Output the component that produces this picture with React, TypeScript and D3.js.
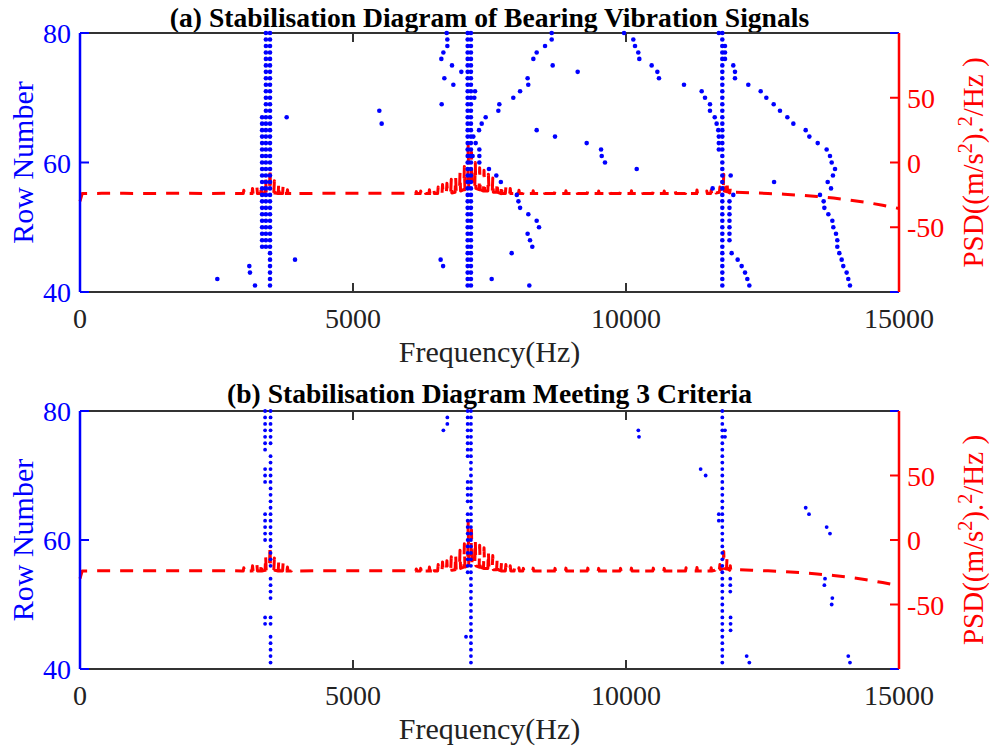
import React from "react";
import * as d3 from "d3";

// ---------- axis ticks ----------
const freqTicks = [0, 5000, 10000, 15000];
const rowTicks = [40, 60, 80];
const psdTicks = [-50, 0, 50];

// ---------- PSD: smooth background level (frequency Hz, dB) ----------
const psdBase: [number, number][] = [
  [0, -30], [40, -24], [400, -23.8], [800, -23.8], [1200, -23.9], [1600, -23.8], [2000, -23.8], [2400, -23.9], [2800, -23.8], [2960, -24],
  [3940, -24], [4400, -23.8], [5000, -23.8], [5600, -23.8], [6080, -23.8],
  [8200, -24], [11400, -24],
  [11980, -23], [12300, -23.4], [12600, -23.9], [12900, -24.5], [13200, -25.3], [13500, -26.3], [13800, -27.5], [14100, -29],
  [14400, -30.8], [14700, -33], [15000, -35.5],
];
// ---------- PSD: narrow spectral lines [frequency, trough, crest] ----------
const psdSpikes: [number, number, number][] = [
  [3000, -24, -21.5], [3080, -24, -22.5], [3160, -24, -20], [3240, -24, -19], [3320, -24, -17.5], [3400, -23.5, -12],
  [3480, -23, -4], [3560, -23.5, -14], [3640, -24, -16], [3720, -24, -18], [3800, -24, -21], [3880, -24, -23],
  [6160, -24, -22.5], [6240, -24, -22], [6320, -24, -21.5], [6400, -24, -21], [6480, -24, -20], [6560, -24, -19],
  [6640, -24, -17], [6720, -24, -16], [6800, -23.5, -13], [6880, -23, -11], [6960, -22, -8], [7040, -21, -3],
  [7110, -20, 15], [7170, -19, 8], [7240, -20, 0], [7320, -21, -4], [7400, -22, -6], [7480, -22, -9],
  [7560, -23, -12], [7640, -23, -15], [7720, -24, -17], [7800, -24, -19], [7880, -24, -20], [7960, -24, -21],
  [8040, -24, -21.5], [8120, -24, -22],
  [8300, -24, -21.8], [8500, -24, -21.8], [8700, -24, -22], [8900, -24, -21.8], [9100, -24, -22], [9300, -24, -21.8],
  [9500, -24, -22], [9700, -24, -21.8], [9900, -24, -22], [10100, -24, -21.8], [10300, -24, -22], [10500, -24, -21.8],
  [10700, -24, -22], [10900, -24, -21.6], [11100, -24, -21.5], [11300, -24, -21.3],
  [11480, -24, -22], [11560, -24, -21.5], [11640, -23.5, -21], [11720, -23, -19], [11790, -22, -9], [11850, -22.5, -14],
  [11910, -23.5, -20],
];

// ---------- Panel (a): stable-pole columns [freq, firstRow, lastRow] ----------
const aColumns: [number, number, number][] = [
  [3480, 41, 80], [3405, 47, 80], [3335, 47, 67],
  [7100, 41, 80], [7160, 41, 80],
  [11764, 41, 80], [11700, 62, 64], [11813, 76, 78], [11700, 80, 80], [11895, 48, 54],
];
// ---------- Panel (a): individual poles [freq, row] ----------
const aPoints: [number, number][] = [
  [2515, 42], [3101, 44], [3113, 43], [3205, 41], [3785, 67], [3938, 45], [5482, 68], [5525, 66],
  [6716, 80], [6728, 79], [6728, 78], [6655, 77], [6618, 76], [6813, 75], [6984, 74], [6673, 73], [6838, 72], [6624, 69],
  [7235, 71], [7222, 70], [7308, 65], [7357, 66], [7430, 67], [7662, 68], [7680, 69], [7936, 70], [8060, 71], [8210, 72], [8198, 73],
  [8303, 76], [8364, 77], [8517, 78], [8639, 79], [8639, 80], [8657, 75], [9115, 74],
  [7204, 64], [7247, 63], [7314, 62], [7314, 61], [7190, 61], [7314, 60], [7490, 59], [7625, 58], [7708, 57],
  [8000, 55], [8030, 54], [8060, 53], [8211, 52], [8364, 51], [8407, 50], [8198, 49], [8242, 48], [8284, 47], [7906, 46], [7540, 42], [8229, 41],
  [6605, 45], [6650, 44],
  [8364, 65], [8700, 64], [9280, 63], [9543, 62], [9555, 61], [9615, 60], [10196, 59],
  [9964, 80], [10134, 79], [10165, 78], [10225, 77], [10244, 76], [10470, 75], [10574, 74], [10604, 73], [11062, 72],
  [11386, 71], [11447, 70], [11538, 69], [11538, 68], [11625, 67], [11660, 66], [11690, 65],
  [11965, 75], [11996, 74], [11996, 73], [12240, 72], [12467, 71], [12570, 70], [12705, 69], [12820, 68], [12955, 67], [13065, 66],
  [13291, 65], [13358, 64], [13511, 63], [13675, 62], [13736, 61], [13767, 60], [13828, 59], [13790, 58], [13694, 57], [13755, 56],
  [13553, 55], [13620, 54], [13633, 53], [13706, 52], [13779, 51], [13797, 50], [13846, 49], [13870, 48], [13870, 47], [13907, 46],
  [13950, 45], [13980, 44], [14041, 43], [14071, 42], [14102, 41],
  [11917, 58], [11587, 56], [11965, 55], [12712, 57], [11935, 46], [12045, 45], [12118, 44], [12180, 43], [12222, 42], [12259, 41],
];

// ---------- Panel (b): columns and individual poles ----------
const bColumns: [number, number, number][] = [
  [3490, 75, 80], [3490, 56, 73], [3490, 51, 54], [3490, 47, 48], [3490, 41, 45],
  [3390, 74, 80], [3390, 69, 71], [3390, 60, 64], [3390, 47, 48],
  [7160, 41, 80], [7100, 73, 80], [7100, 66, 69], [7100, 55, 64],
  [11764, 41, 80], [11813, 76, 77], [11700, 63, 64], [11910, 52, 54], [11915, 46, 48],
];
const bPoints: [number, number][] = [
  [7070, 45], [6728, 79], [6728, 78], [6655, 77], [10226, 77], [10238, 76], [11367, 71], [11459, 70],
  [12210, 42], [12259, 41], [13291, 65], [13352, 64], [13675, 62], [13736, 61], [13645, 54], [13633, 53],
  [13779, 51], [13767, 50], [14071, 42], [14102, 41],
];

const FONT = "'Liberation Serif', 'Times New Roman', Times, serif";
const X0 = 80;
const X1 = 899;
const BLUE = "#0000ff";
const RED = "#ff0000";
const DARK = "#333333";

// PSD path vertices: background level plus each narrow line (trough - crest - trough)
const psdPath: [number, number][] = [
  ...psdBase,
  ...psdSpikes.flatMap(([f, lo, hi]) => [
    [f - 10, lo] as [number, number],
    [f, hi] as [number, number],
    [f + 10, lo] as [number, number],
  ]),
].sort((a, b) => a[0] - b[0]);

type PanelProps = {
  top: number;
  bottom: number;
  title: string;
  titleY: number;
  tickLabelY: number;
  axisLabelY: number;
  columns: [number, number, number][];
  points: [number, number][];
  r: number;
};

function Panel({ top, bottom, title, titleY, tickLabelY, axisLabelY, columns, points, r }: PanelProps) {
  const x = d3.scaleLinear().domain([0, 15000]).range([X0, X1]);
  const y = d3.scaleLinear().domain([40, 80]).range([bottom, top]);
  const yr = d3.scaleLinear().domain([-100, 100]).range([bottom, top]);
  const line = d3
    .line<[number, number]>()
    .x((d) => x(d[0]))
    .y((d) => yr(d[1]));

  const dots: [number, number][] = [];
  columns.forEach(([f, a, b]) => {
    d3.range(a, b + 1).forEach((row) => dots.push([f, row]));
  });
  points.forEach((p) => dots.push(p));

  const midY = (top + bottom) / 2;
  const midX = (X0 + X1) / 2;

  return (
    <g>
      <text x={midX} y={titleY} textAnchor="middle" fontFamily={FONT} fontWeight="bold" fontSize={27.6} fill="#000">
        {title}
      </text>
      <line x1={X0} x2={X1} y1={top} y2={top} stroke={DARK} strokeWidth={2} />
      <line x1={X0} x2={X1} y1={bottom} y2={bottom} stroke={DARK} strokeWidth={2} />
      {freqTicks.slice(1, -1).map((t) => (
        <g key={"xt" + t}>
          <line x1={x(t)} x2={x(t)} y1={bottom} y2={bottom - 9} stroke={DARK} strokeWidth={2} />
          <line x1={x(t)} x2={x(t)} y1={top} y2={top + 9} stroke={DARK} strokeWidth={2} />
        </g>
      ))}
      <path
        d={line(psdPath) || ""}
        fill="none"
        stroke={RED}
        strokeWidth={3}
        strokeDasharray="13,10"
        strokeLinejoin="round"
      />
      {dots.map((d, i) => (
        <circle key={"p" + i} cx={x(d[0])} cy={y(d[1])} r={r} fill={BLUE} />
      ))}
      <line x1={X0} x2={X0} y1={top} y2={bottom} stroke={BLUE} strokeWidth={2.5} />
      {rowTicks.map((t) => (
        <g key={"yl" + t}>
          <line x1={X0} x2={X0 + 9} y1={y(t)} y2={y(t)} stroke={BLUE} strokeWidth={2} />
          <text x={71} y={y(t) + 10} textAnchor="end" fontFamily={FONT} fontSize={28} fill={BLUE}>
            {t}
          </text>
        </g>
      ))}
      <line x1={X1 - 9} x2={X1} y1={top} y2={top} stroke={BLUE} strokeWidth={2} />
      <line x1={X1 - 9} x2={X1} y1={bottom} y2={bottom} stroke={BLUE} strokeWidth={2} />
      <line x1={X1} x2={X1} y1={top} y2={bottom} stroke={RED} strokeWidth={2.5} />
      {psdTicks.map((t) => (
        <g key={"yr" + t}>
          <line x1={X1 - 9} x2={X1} y1={yr(t)} y2={yr(t)} stroke={RED} strokeWidth={2} />
          <text x={907} y={yr(t) + 10} textAnchor="start" fontFamily={FONT} fontSize={28} fill={RED}>
            {t < 0 ? "-" + Math.abs(t) : t}
          </text>
        </g>
      ))}
      {freqTicks.map((t) => (
        <text key={"xl" + t} x={x(t)} y={tickLabelY} textAnchor="middle" fontFamily={FONT} fontSize={28} fill="#222">
          {t}
        </text>
      ))}
      <text x={midX} y={axisLabelY} textAnchor="middle" fontFamily={FONT} fontSize={30} fill="#222">
        Frequency(Hz)
      </text>
      <text
        transform={`translate(33,${midY}) rotate(-90)`}
        textAnchor="middle"
        fontFamily={FONT}
        fontSize={30}
        fill={BLUE}
      >
        Row Number
      </text>
      <text
        transform={`translate(983,${midY}) rotate(-90)`}
        textAnchor="middle"
        fontFamily={FONT}
        fontSize={29}
        fill={RED}
      >
        PSD((m/s<tspan dy={-11} fontSize={20}>2</tspan>
        <tspan dy={11}>).</tspan>
        <tspan dy={-11} fontSize={20}>2</tspan>
        <tspan dy={11}>/Hz )</tspan>
      </text>
    </g>
  );
}

export default function App() {
  return (
    <svg
      width={989}
      height={749}
      viewBox="0 0 989 749"
      style={{ position: "absolute", left: 0, top: 0, background: "#fff", display: "block" }}
    >
      <rect x={0} y={0} width={989} height={749} fill="#fff" />
      <Panel
        top={33}
        bottom={292}
        title="(a) Stabilisation Diagram of Bearing Vibration Signals"
        titleY={27}
        tickLabelY={328}
        axisLabelY={362}
        columns={aColumns}
        points={aPoints}
        r={2.3}
      />
      <Panel
        top={411}
        bottom={669}
        title="(b) Stabilisation Diagram Meeting 3 Criteria"
        titleY={403}
        tickLabelY={705}
        axisLabelY={739}
        columns={bColumns}
        points={bPoints}
        r={1.9}
      />
    </svg>
  );
}
